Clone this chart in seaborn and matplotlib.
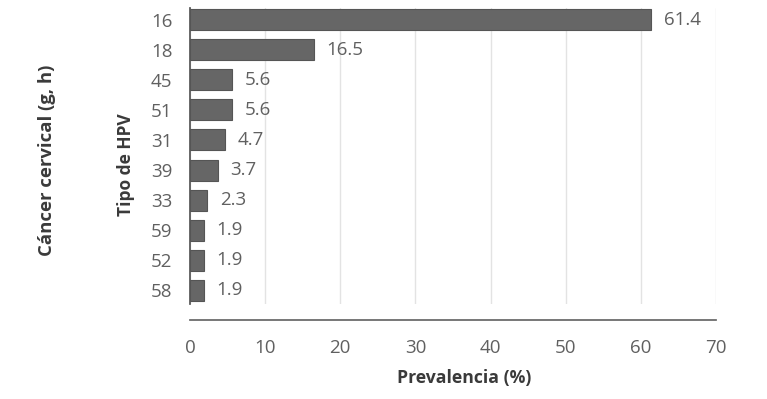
import pandas as pd
import seaborn as sns
import matplotlib.pyplot as plt

hpv_types = ["16", "18", "45", "51", "31", "39", "33", "59", "52", "58"]
prevalence = [61.4, 16.5, 5.6, 5.6, 4.7, 3.7, 2.3, 1.9, 1.9, 1.9]
x_ticks = [0, 10, 20, 30, 40, 50, 60, 70]

sns.set_theme(style="white")
plt.rcParams["font.family"] = ["Open Sans", "DejaVu Sans"]

TEXT = "#606060"
BAR = "#666666"
LABEL = "#3a3a3a"

df = pd.DataFrame({"tipo": hpv_types, "prev": prevalence})

fig = plt.figure(figsize=(7.67, 3.99), dpi=100)
ax = fig.add_axes([0.2477, 0.2393, 0.6858, 0.7407])
sns.barplot(data=df, x="prev", y="tipo", orient="h", color=BAR,
            saturation=1, width=0.7, ax=ax, zorder=3,
            edgecolor="#555555", linewidth=0.8)

ax.set_xlim(0, 70)
ax.set_ylim(9.45, -0.4)
ax.set_xticks(x_ticks)
ax.xaxis.grid(True, color="#e3e3e3", linewidth=1, zorder=0)
ax.set_axisbelow(True)

for s in ["top", "right"]:
    ax.spines[s].set_visible(False)
ax.spines["left"].set_color("#555555")
ax.spines["bottom"].set_color("#666666")
ax.spines["bottom"].set_position(("outward", 12))

ax.tick_params(axis="both", colors="#555555", labelcolor=TEXT, labelsize=13.5,
               length=6.5, width=1, direction="out")
ax.tick_params(axis="y", pad=6)
ax.tick_params(axis="x", pad=7)

for p, v in zip(ax.patches, prevalence):
    ax.annotate(f"{v}", (p.get_width(), p.get_y() + p.get_height() / 2),
                xytext=(9, 0), textcoords="offset points",
                ha="left", va="center", fontsize=13.5, color=TEXT)

ax.set_xlabel("")
ax.set_ylabel("")

fig.text(0.605, 0.053, "Prevalencia (%)", ha="center", va="center",
         fontsize=12.7, fontweight="bold", color=LABEL)
fig.text(0.1643, 0.5865, "Tipo de HPV", rotation=90, ha="center",
         va="center", fontsize=12.5, fontweight="bold", color=LABEL)
fig.text(0.0613, 0.599, "Cáncer cervical (g, h)", rotation=90, ha="center",
         va="center", fontsize=13.3, fontweight="bold", color=LABEL)

fig.savefig("out.png", dpi=100)
